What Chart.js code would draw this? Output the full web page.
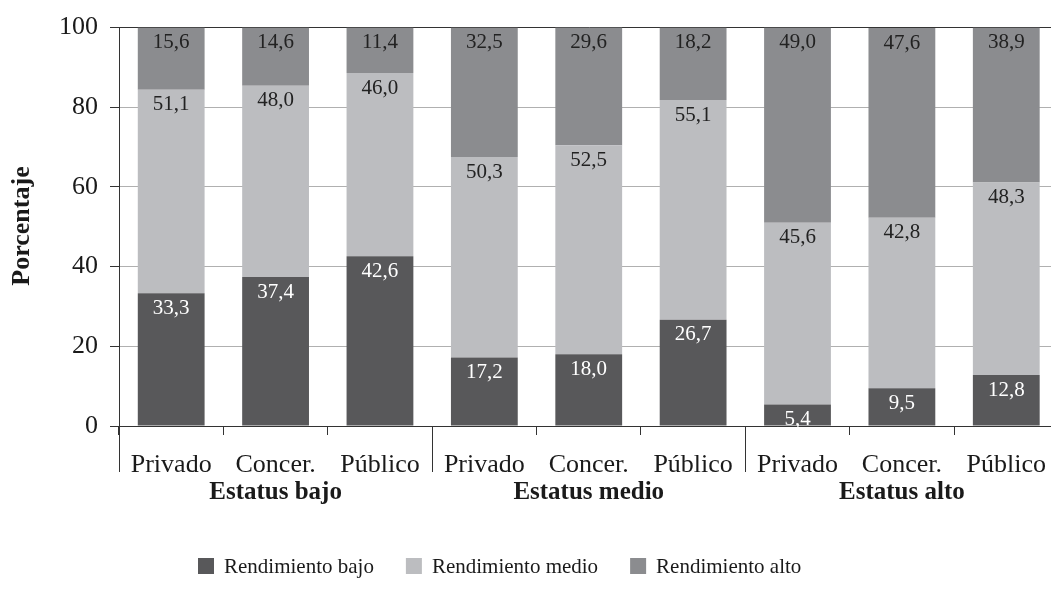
<!DOCTYPE html>
<html lang="es">
<head>
    <meta charset="UTF-8">
    <title>Rendimiento por estatus y titularidad</title>
    <script src="https://cdn.jsdelivr.net/npm/chart.js"></script>
    <style>
        body {
            margin: 0;
            background: #ffffff;
            overflow: hidden;
        }
        .chart-box {
            width: 1061px;
            height: 594px;
        }
    </style>
</head>
<body>
    <div class="chart-box">
        <canvas id="rendChart" width="1061" height="594"></canvas>
    </div>

    <script>
        const categories = ['Privado', 'Concer.', 'Público', 'Privado', 'Concer.', 'Público', 'Privado', 'Concer.', 'Público'];
        const groups = ['Estatus bajo', 'Estatus medio', 'Estatus alto'];
        const seriesNames = ['Rendimiento bajo', 'Rendimiento medio', 'Rendimiento alto'];
        const rendBajo = [33.3, 37.4, 42.6, 17.2, 18.0, 26.7, 5.4, 9.5, 12.8];
        const rendMedio = [51.1, 48.0, 46.0, 50.3, 52.5, 55.1, 45.6, 42.8, 48.3];
        const rendAlto = [15.6, 14.6, 11.4, 32.5, 29.6, 18.2, 49.0, 47.6, 38.9];
        const yTicks = [0, 20, 40, 60, 80, 100];

        const colors = ['#58585a', '#bcbdc0', '#8b8c8f'];
        const labelColors = ['#ffffff', '#222222', '#222222'];
        const serif = '"Liberation Serif", "DejaVu Serif", serif';

        // value labels near the top of each segment
        const valueLabels = {
            id: 'valueLabels',
            afterDatasetsDraw(chart) {
                const ctx = chart.ctx;
                ctx.save();
                ctx.font = '21px ' + serif;
                ctx.textAlign = 'center';
                ctx.textBaseline = 'middle';
                chart.data.datasets.forEach((ds, i) => {
                    chart.getDatasetMeta(i).data.forEach((bar, j) => {
                        ctx.fillStyle = labelColors[i];
                        const txt = ds.data[j].toFixed(1).replace('.', ',');
                        ctx.fillText(txt, bar.x, Math.max(bar.y, chart.chartArea.top) + 15);
                    });
                });
                ctx.restore();
            }
        };

        // group separators, group names, axis title and legend
        const decorations = {
            id: 'decorations',
            afterDraw(chart) {
                const ctx = chart.ctx;
                const x = chart.scales.x;
                const area = chart.chartArea;
                const step = x.getPixelForValue(1) - x.getPixelForValue(0);
                ctx.save();

                ctx.strokeStyle = '#333333';
                ctx.lineWidth = 1;
                [0, 3, 6].forEach(idx => {
                    const px = Math.round(x.getPixelForValue(idx) - step / 2) + 0.5;
                    ctx.beginPath();
                    ctx.moveTo(px, area.bottom);
                    ctx.lineTo(px, area.bottom + 46);
                    ctx.stroke();
                });

                ctx.fillStyle = '#1a1a1a';
                ctx.font = 'bold 25px ' + serif;
                ctx.textAlign = 'center';
                ctx.textBaseline = 'middle';
                groups.forEach((g, k) => {
                    ctx.fillText(g, x.getPixelForValue(k * 3 + 1), 493);
                });

                ctx.save();
                ctx.translate(22, 226);
                ctx.rotate(-Math.PI / 2);
                ctx.font = 'bold 26px ' + serif;
                ctx.fillText('Porcentaje', 0, 0);
                ctx.restore();

                ctx.font = '21px ' + serif;
                ctx.textAlign = 'left';
                let lx = 198;
                const ly = 566;
                seriesNames.forEach((name, i) => {
                    ctx.fillStyle = colors[i];
                    ctx.fillRect(lx, ly - 8, 16, 16);
                    ctx.fillStyle = '#1a1a1a';
                    ctx.fillText(name, lx + 26, ly + 1);
                    lx += 26 + ctx.measureText(name).width + 32;
                });

                ctx.restore();
            }
        };

        new Chart(document.getElementById('rendChart'), {
            type: 'bar',
            data: {
                labels: categories,
                datasets: [
                    { label: seriesNames[0], data: rendBajo, backgroundColor: colors[0] },
                    { label: seriesNames[1], data: rendMedio, backgroundColor: colors[1] },
                    { label: seriesNames[2], data: rendAlto, backgroundColor: colors[2] }
                ].map(d => Object.assign(d, { barPercentage: 0.64, categoryPercentage: 1, borderWidth: 0 }))
            },
            options: {
                responsive: false,
                animation: false,
                layout: { padding: { top: 26, left: 0, right: 0, bottom: 0 } },
                plugins: {
                    legend: { display: false },
                    tooltip: { enabled: false }
                },
                scales: {
                    x: {
                        stacked: true,
                        afterFit(s) { s.height = 168; },
                        grid: {
                            offset: true,
                            drawOnChartArea: false,
                            tickLength: 9,
                            color: '#333333'
                        },
                        border: { color: '#333333', width: 1 },
                        ticks: {
                            color: '#1a1a1a',
                            padding: 15,
                            maxRotation: 0,
                            font: { family: serif, size: 26 }
                        }
                    },
                    y: {
                        stacked: true,
                        min: 0,
                        max: 100,
                        afterFit(s) { s.width = 119; },
                        afterBuildTicks(s) { s.ticks = yTicks.map(v => ({ value: v })); },
                        grid: {
                            color: c => (c.tick && c.tick.value === 100) ? '#333333' : '#b0b0b0',
                            tickColor: '#333333',
                            tickLength: 9
                        },
                        border: { color: '#333333', width: 1 },
                        ticks: {
                            color: '#1a1a1a',
                            padding: 12,
                            font: { family: serif, size: 26 }
                        }
                    }
                }
            },
            plugins: [valueLabels, decorations]
        });
    </script>
</body>
</html>
